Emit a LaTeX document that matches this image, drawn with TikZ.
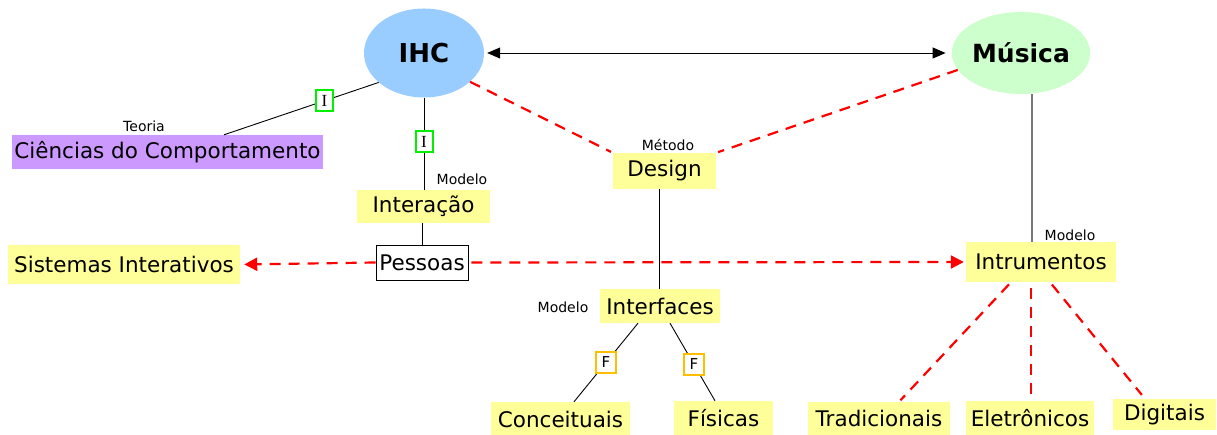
\documentclass[tikz,border=0pt]{standalone}
\usepackage{fontspec}
\setmainfont{DejaVu Sans}
\newfontfamily\tagserif{Liberation Serif}
\usetikzlibrary{arrows.meta,shapes.geometric}
\definecolor{boxyellow}{RGB}{255,255,153}
\definecolor{boxpurple}{RGB}{204,153,255}
\definecolor{ihcblue}{RGB}{153,204,255}
\definecolor{musgreen}{RGB}{204,255,204}
\definecolor{tagGreen}{RGB}{0,240,0}
\definecolor{tagOrange}{RGB}{255,190,0}
\definecolor{linkred}{RGB}{255,0,0}
\definecolor{linkgrey}{RGB}{120,120,120}
\tikzset{
  concept/.style={inner sep=0pt, font=\fontsize{21.5}{24}\selectfont, text=black},
  yconcept/.style={concept, fill=boxyellow},
  hub/.style={ellipse, inner sep=0pt, font=\fontsize{26}{30}\selectfont\bfseries},
  lbl/.style={inner sep=0pt, font=\fontsize{14}{16}\selectfont},
  itag/.style={draw=tagGreen, fill=white, line width=2pt, inner sep=0pt,
    minimum width=17pt, minimum height=21pt, font=\fontsize{17}{18}\selectfont\tagserif},
  ftag/.style={draw=tagOrange, fill=white, line width=2pt, inner sep=0pt,
    minimum width=20pt, minimum height=21pt, font=\fontsize{15}{16}\selectfont},
  link/.style={draw=black, line width=0.9pt},
  redlink/.style={draw=linkred, line width=2.2pt, dash pattern=on 11pt off 8pt},
  redtip/.style={-{Triangle[length=13pt,width=13pt]}, linkred},
  blacktip/.tip={Triangle[length=13pt,width=11pt]},
}
\begin{document}
\begin{tikzpicture}[x=1pt,y=-1pt]
\useasboundingbox (0,0) rectangle (1217,435);

% main concepts
\node[hub, fill=ihcblue, minimum width=120pt, minimum height=89pt] (ihc) at (424,53) {IHC};
\node[hub, fill=musgreen, minimum width=134pt, minimum height=82pt, font=\fontsize{25}{30}\selectfont\bfseries] (mus) at (1021,53) {Música};

% boxes
\node[concept, fill=boxpurple, minimum width=311pt, minimum height=34pt] (cc) at (167.5,152) {Ciências do Comportamento};
\node[yconcept, minimum width=133pt, minimum height=33pt] (inter) at (423.5,206.5) {Interação};
\node[concept, draw=black, fill=white, line width=0.9pt, minimum width=92pt, minimum height=35pt] (pess) at (422,262.5) {Pessoas};
\node[yconcept, minimum width=232pt, minimum height=39pt] (sist) at (124,264.5) {Sistemas Interativos};
\node[yconcept, minimum width=150pt, minimum height=40pt] (intr) at (1041,262) {Intrumentos};
\node[yconcept, minimum width=103pt, minimum height=36pt] (design) at (664.5,171) {Design};
\node[yconcept, minimum width=120pt, minimum height=34pt] (ifc) at (660,306) {Interfaces};
\node[yconcept, minimum width=139pt, minimum height=34pt] (conc) at (560.5,419) {Conceituais};
\node[yconcept, minimum width=99pt, minimum height=34pt] (fis) at (723.5,418) {Físicas};
\node[yconcept, minimum width=142pt, minimum height=33pt] (trad) at (879,418.5) {Tradicionais};
\node[yconcept, minimum width=128pt, minimum height=34pt] (elet) at (1030,418) {Eletrônicos};
\node[yconcept, minimum width=103pt, minimum height=31pt] (dig) at (1164.5,414.5) {Digitais};

% small labels
\node[lbl] (lteoria) at (144,126) {Teoria};
\node[lbl] (lmod1) at (462,179) {Modelo};
\node[lbl] (lmetodo) at (668,145) {Método};
\node[lbl] (lmod2) at (1070,235) {Modelo};
\node[lbl] (lmod3) at (563,307) {Modelo};

% IHC <-> Música
\draw[blacktip-blacktip, line width=0.9pt, shorten <=3pt, shorten >=6pt]
  (ihc.east) -- (mus.west);

% solid links
\draw[link] (ihc.213) -- node[itag, pos=0.35] {I} ([xshift=56.5pt]cc.north);
\draw[link] (ihc.south) -- node[itag, pos=0.48] {I} (ihc.south |- inter.north);
\draw[link] ([xshift=-1.5pt]inter.south) -- ([xshift=-1.5pt]inter.south |- pess.north);
\draw[link] (design.south) ++(-5.5pt,0) -- ([xshift=-1pt]ifc.north);
\draw[link] ([xshift=-22pt]ifc.south) -- node[ftag, pos=0.5] {F} ([xshift=13.5pt]conc.north);
\draw[link] ([xshift=10pt]ifc.south) -- node[ftag, pos=0.53] {F} ([xshift=-8.5pt]fis.north);
\draw[draw=linkgrey, line width=1.6pt] ([xshift=11pt]mus.south) -- ([xshift=-9pt]intr.north);

% dashed links
\draw[redlink, shorten >=2pt] (ihc.-32) -- (design.north west);
\draw[redlink, shorten >=2pt] (mus.195) -- (design.north east);
\draw[redlink, redtip, shorten >=4pt] (pess.west) -- (sist.east);
\draw[redlink, redtip, shorten <=3pt, shorten >=2pt] (pess.east) -- (intr.west);
\draw[redlink, shorten <=3pt, shorten >=2pt] ([xshift=-30pt]intr.south) -- ([xshift=20pt]trad.north);
\draw[redlink, shorten <=6pt, shorten >=2pt] ([xshift=-10pt]intr.south) -- ([xshift=1pt]elet.north);
\draw[redlink, shorten <=3pt, shorten >=5pt] ([xshift=9pt]intr.south) -- ([xshift=-19.5pt]dig.north);
\end{tikzpicture}
\end{document}
